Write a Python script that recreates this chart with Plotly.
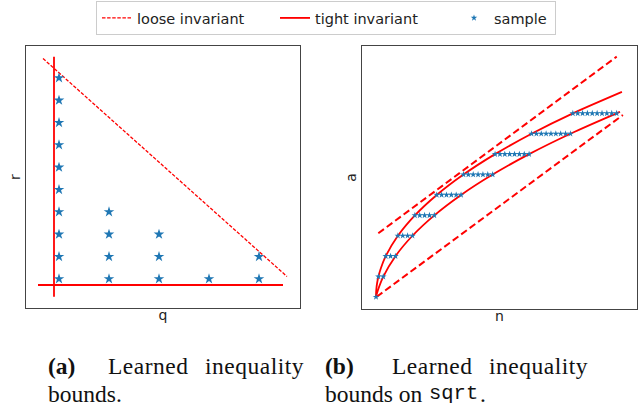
import plotly.graph_objects as go

# ---------------- data: panel (a) ----------------
q_samples = [0, 0, 0, 0, 0, 0, 0, 0, 0, 0, 1, 1, 1, 1, 2, 2, 2, 3, 4, 4]
r_samples = [0, 1, 2, 3, 4, 5, 6, 7, 8, 9, 0, 1, 2, 3, 0, 1, 2, 0, 0, 1]

tight_v_q = [-0.1, -0.1]
tight_v_r = [-0.8, 9.95]
tight_h_q = [-0.42, 4.48]
tight_h_r = [-0.27, -0.27]
loose_a_q = [-0.32, 4.56]
loose_a_r = [9.87, 0.11]

# ---------------- data: panel (b) ----------------
n_samples = [0,
             1, 3,
             4, 6, 8,
             9, 11, 13, 15,
             16, 18, 20, 22, 24,
             25, 27, 29, 31, 33, 35,
             36, 38, 40, 42, 44, 46, 48,
             49, 51, 53, 55, 57, 59, 61, 63,
             64, 66, 68, 70, 72, 74, 76, 78, 80,
             81, 83, 85, 87, 89, 91, 93, 95, 97, 99]
a_samples = [0,
             1, 1,
             2, 2, 2,
             3, 3, 3, 3,
             4, 4, 4, 4, 4,
             5, 5, 5, 5, 5, 5,
             6, 6, 6, 6, 6, 6, 6,
             7, 7, 7, 7, 7, 7, 7, 7,
             8, 8, 8, 8, 8, 8, 8, 8, 8,
             9, 9, 9, 9, 9, 9, 9, 9, 9, 9]

upper_n = [0, 0.05, 0.2, 0.5, 1, 2, 4, 9, 16, 25, 36, 49, 64, 81, 101.2]
upper_a = [0, 0.22, 0.45, 0.71, 1.0, 1.41, 2.0, 3.0, 4.0, 5.0, 6.0, 7.0, 8.0, 9.0, 10.05]
lower_n = [0, 0.5, 1, 3, 8, 15, 24, 35, 48, 63, 80, 99, 100.4]
lower_a = [0, 0.22, 0.41, 1.0, 2.0, 3.0, 4.0, 5.0, 6.0, 7.0, 8.0, 9.0, 9.07]
loose_up_n = [0.95, 99.05]
loose_up_a = [3.12, 11.78]
loose_lo_n = [0.3, 101.6]
loose_lo_a = [0.01, 8.92]

RED = "#ff0000"
BLUE = "#1f77b4"
W, H = 640, 406

fig = go.Figure()

# panel (a)
fig.add_trace(go.Scatter(x=loose_a_q, y=loose_a_r, mode="lines", name="loose invariant",
                         line=dict(color=RED, width=1.3, dash="3.5px,1.6px"),
                         showlegend=True, legendwidth=133, xaxis="x", yaxis="y"))
fig.add_trace(go.Scatter(x=tight_v_q, y=tight_v_r, mode="lines", name="tight invariant",
                         line=dict(color=RED, width=1.8), showlegend=True, legendwidth=134,
                         xaxis="x", yaxis="y"))
fig.add_trace(go.Scatter(x=tight_h_q, y=tight_h_r, mode="lines", name="tight invariant",
                         line=dict(color=RED, width=1.8), showlegend=False,
                         xaxis="x", yaxis="y"))
fig.add_trace(go.Scatter(x=q_samples, y=r_samples, mode="markers", name="sample",
                         marker=dict(symbol="star", size=8, color=BLUE, line=dict(width=0)),
                         showlegend=False, xaxis="x", yaxis="y"))

# panel (b)
fig.add_trace(go.Scatter(x=loose_up_n, y=loose_up_a, mode="lines", name="loose invariant",
                         line=dict(color=RED, width=2, dash="7px,3.5px"), showlegend=False,
                         xaxis="x2", yaxis="y2"))
fig.add_trace(go.Scatter(x=loose_lo_n, y=loose_lo_a, mode="lines", name="loose invariant",
                         line=dict(color=RED, width=2, dash="7px,3.5px"), showlegend=False,
                         xaxis="x2", yaxis="y2"))
fig.add_trace(go.Scatter(x=upper_n, y=upper_a, mode="lines", name="tight invariant",
                         line=dict(color=RED, width=1.8, shape="spline", smoothing=0.6),
                         showlegend=False, xaxis="x2", yaxis="y2"))
fig.add_trace(go.Scatter(x=lower_n, y=lower_a, mode="lines", name="tight invariant",
                         line=dict(color=RED, width=1.8, shape="spline", smoothing=0.6),
                         showlegend=False, xaxis="x2", yaxis="y2"))
fig.add_trace(go.Scatter(x=n_samples, y=a_samples, mode="markers", name="sample",
                         marker=dict(symbol="star", size=5, color=BLUE, line=dict(width=0)),
                         showlegend=True, legendwidth=56, xaxis="x2", yaxis="y2"))

axis_common = dict(showgrid=False, zeroline=False, showticklabels=False, ticks="",
                   showline=True, mirror=True, linecolor="#444444", linewidth=1,
                   automargin=False, fixedrange=True)
title_font = dict(family="DejaVu Sans", size=14, color="#222222")

fig.update_layout(
    width=W, height=H,
    margin=dict(l=0, r=0, t=0, b=0),
    paper_bgcolor="white", plot_bgcolor="white",
    template="none",
    xaxis=dict(domain=[26 / W, 300 / W], range=[-0.66, 4.82], anchor="y",
               title=dict(text="q", font=title_font, standoff=2), **axis_common),
    yaxis=dict(domain=[1 - 308 / H, 1 - 46 / H], range=[-1.30, 10.43], anchor="x",
               title=dict(text="r", font=title_font, standoff=1), **axis_common),
    xaxis2=dict(domain=[362 / W, 637 / W], range=[-5.76, 107.4], anchor="y2",
                title=dict(text="n", font=title_font, standoff=2), **axis_common),
    yaxis2=dict(domain=[1 - 309 / H, 1 - 46 / H], range=[-0.59, 12.3], anchor="x2",
                title=dict(text="a", font=title_font, standoff=1), **axis_common),
    legend=dict(orientation="h", x=96 / W, xanchor="left", y=1 - 1 / H, yanchor="top",
                bgcolor="white", bordercolor="#cccccc", borderwidth=1,
                font=dict(family="DejaVu Sans", size=14.5, color="#222222"),
                itemwidth=30, tracegroupgap=0),
    showlegend=True,
)

cap_font = dict(family="Liberation Serif", size=23.5, color="#111111")
mono_font = dict(family="Liberation Mono", size=20.5, color="#111111")
LS = "<span style='letter-spacing:0.5px'>{}</span>"
captions = [
    ("<b>(a)</b>", 47, 366, "left", cap_font),
    (LS.format("Learned"), 107, 366, "left", cap_font),
    (LS.format("inequality"), 305, 366, "right", cap_font),
    ("bounds.", 47, 394, "left", cap_font),
    ("<b>(b)</b>", 324, 366, "left", cap_font),
    (LS.format("Learned"), 391, 366, "left", cap_font),
    (LS.format("inequality"), 589, 366, "right", cap_font),
    ("bounds on", 324, 394, "left", cap_font),
    ("sqrt", 428, 393, "left", mono_font),
    (".", 479, 394, "left", cap_font),
]
for text, px, py, anchor, fnt in captions:
    fig.add_annotation(text=text, x=px / W, y=1 - py / H, xref="paper", yref="paper",
                       xanchor=anchor, yanchor="middle", showarrow=False, font=fnt,
                       borderpad=0)

fig.write_html("out.html",
               config={"displayModeBar": False},
               post_script="document.body.style.margin='0px';document.body.style.overflow='hidden';")
